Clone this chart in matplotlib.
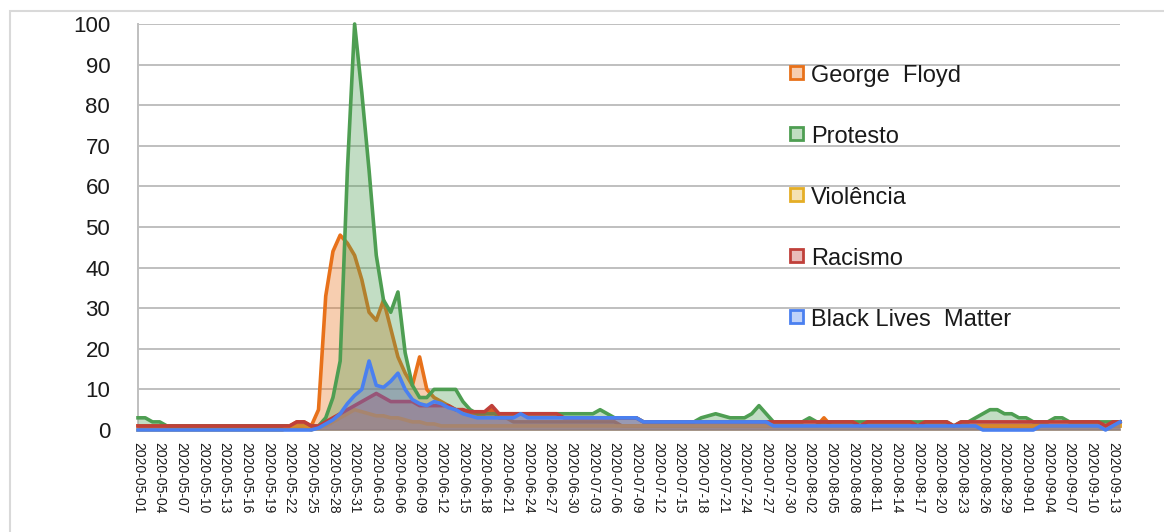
import matplotlib
matplotlib.use("Agg")
import matplotlib.pyplot as plt
import numpy as np
import pandas as pd
from matplotlib.patches import Rectangle

plt.rcParams["font.family"] = ["Liberation Sans", "DejaVu Sans"]

# Daily search interest, 2020-05-01 .. 2020-09-14
dates = pd.date_range("2020-05-01", "2020-09-14", freq="D")

george_floyd = [
    1, 1, 1, 1, 1, 1, 1, 1, 1, 1,
    1, 1, 1, 1, 1, 1, 1, 1, 1, 1,
    1, 1, 2, 2, 1, 5, 33, 44, 48, 46,
    43, 37, 29, 27, 32, 25, 18, 14, 11, 18,
    10, 8, 7, 6, 5, 5, 4, 4, 4, 5,
    3, 3, 2, 2, 2, 2, 2, 2, 2, 2,
    2, 2, 2, 2, 2, 2, 2, 1, 1, 1,
    1, 1, 1, 1, 1, 1, 1, 1, 1, 1,
    1, 1, 1, 1, 1, 1, 1, 1, 1, 1,
    1, 1, 1, 1, 1, 3, 1, 1, 1, 1,
    1, 1, 1, 1, 1, 1, 1, 1, 1, 1,
    1, 1, 1, 1, 1, 1, 1, 1, 1, 1,
    1, 1, 1, 1, 1, 1, 1, 1, 1, 1,
    1, 1, 1, 1, 1, 1, 1,
]

protesto = [
    3, 3, 2, 2, 1, 1, 1, 1, 1, 1,
    1, 1, 1, 1, 1, 1, 1, 1, 1, 1,
    1, 1, 1, 1, 1, 1, 3, 8, 17, 64,
    100, 83, 64, 43, 32, 29, 34, 19, 11, 8,
    8, 10, 10, 10, 10, 7, 5, 4, 4, 4,
    4, 4, 4, 4, 4, 4, 4, 4, 4, 4,
    4, 4, 4, 4, 5, 4, 3, 3, 3, 3,
    2, 2, 2, 2, 2, 2, 2, 2, 3, 3.5,
    4, 3.5, 3, 3, 3, 4, 6, 4, 2, 2,
    2, 2, 2, 3, 2, 2, 2, 2, 2, 2,
    2, 2, 2, 2, 2, 2, 2, 2, 2, 2,
    2, 2, 2, 1, 2, 2, 3, 4, 5, 5,
    4, 4, 3, 3, 2, 2, 2, 3, 3, 2,
    2, 2, 2, 2, 2, 2, 2,
]

violencia = [
    0, 0, 0, 0, 0, 0, 0, 0, 0, 0,
    0, 0, 0, 0, 0, 0, 0, 0, 0, 0,
    0, 1, 1, 1, 0, 1, 1, 2, 3, 4,
    5, 4.5, 4, 3.5, 3.5, 3, 3, 2.5, 2, 2,
    1.5, 1.5, 1, 1, 1, 1, 1, 1, 1, 1,
    1, 1, 1, 1, 1, 1, 1, 1, 1, 1,
    1, 1, 1, 1, 1, 1, 1, 1, 1, 1,
    1, 1, 1, 1, 1, 1, 1, 1, 1, 1,
    1, 1, 1, 1, 1, 1, 1, 1, 1, 1,
    1, 1, 1, 1, 1, 1, 1, 1, 1, 1,
    1, 1, 1, 1, 1, 1, 1, 1, 1, 1,
    1, 1, 1, 1, 1, 1, 1, 1, 1, 1,
    1, 1, 1, 1, 1, 1, 1, 1, 1, 1,
    1, 1, 1, 1, 1, 1, 1,
]

racismo = [
    1, 1, 1, 1, 1, 1, 1, 1, 1, 1,
    1, 1, 1, 1, 1, 1, 1, 1, 1, 1,
    1, 1, 2, 2, 1, 1, 2, 3, 4, 5,
    6, 7, 8, 9, 8, 7, 7, 7, 7, 6,
    6, 6, 6, 6, 5, 5, 4.5, 4.5, 4.5, 6,
    4, 4, 4, 4, 4, 4, 4, 4, 4, 3,
    3, 3, 3, 3, 3, 3, 3, 3, 3, 3,
    2, 2, 2, 2, 2, 2, 2, 2, 2, 2,
    2, 2, 2, 2, 2, 2, 2, 2, 2, 2,
    2, 2, 2, 2, 2, 2, 2, 2, 2, 2,
    1, 2, 2, 2, 2, 2, 2, 2, 1, 2,
    2, 2, 2, 1, 2, 2, 2, 2, 2, 2,
    2, 2, 2, 2, 2, 2, 2, 2, 2, 2,
    2, 2, 2, 2, 1, 2, 2,
]

black_lives_matter = [
    0, 0, 0, 0, 0, 0, 0, 0, 0, 0,
    0, 0, 0, 0, 0, 0, 0, 0, 0, 0,
    0, 0, 0, 0, 0, 0.5, 1.5, 2.5, 4, 6.5,
    8.5, 10, 17, 11, 10.5, 12, 14, 10, 7.5, 6.5,
    6, 7, 6.5, 5.5, 5, 4, 3.5, 3, 3, 3,
    3, 3, 3, 4, 3, 3, 3, 3, 3, 3,
    3, 3, 3, 3, 3, 3, 3, 3, 3, 3,
    2, 2, 2, 2, 2, 2, 2, 2, 2, 2,
    2, 2, 2, 2, 2, 2, 2, 2, 1, 1,
    1, 1, 1, 1, 1, 1, 1, 1, 1, 1,
    1, 1, 1, 1, 1, 1, 1, 1, 1, 1,
    1, 1, 1, 1, 1, 1, 1, 0, 0, 0,
    0, 0, 0, 0, 0, 1, 1, 1, 1, 1,
    1, 1, 1, 1, 0, 1, 2,
]

series_names = ["George  Floyd", "Protesto", "Violência", "Racismo", "Black Lives  Matter"]
series_values = [george_floyd, protesto, violencia, racismo, black_lives_matter]
series_colors = ["#E8711A", "#4E9E52", "#E5AE26", "#C0403A", "#4A80F0"]

y_ticks = list(range(0, 101, 10))
tick_step = 3

W, H = 1164, 532
fig = plt.figure(figsize=(W / 100, H / 100), dpi=100)
fig.patch.set_facecolor("white")

# light outer chart border
fig.add_artist(Rectangle((10 / W, 1 - 700 / H), 1400 / W, (700 - 11) / H,
                         transform=fig.transFigure, fill=False,
                         edgecolor="#D9D9D9", linewidth=1.5, clip_on=False))

ax = fig.add_axes([138 / W, 1 - 430 / H, (1120 - 138) / W, (430 - 24) / H])
x = np.arange(len(dates))

for i, (vals, color) in enumerate(zip(series_values, series_colors)):
    v = np.asarray(vals, dtype=float)
    ax.fill_between(x, 0, v, color=color, alpha=0.34, linewidth=0, zorder=3 + 2 * i)
    ax.plot(x, v, color=color, linewidth=2.6, zorder=4 + 2 * i, clip_on=False,
            solid_joinstyle="round")

ax.set_xlim(0, len(dates) - 1)
ax.set_ylim(0, 100)
ax.set_yticks(y_ticks)
ax.set_yticklabels([str(t) for t in y_ticks], fontsize=16, color="#1a1a1a")
ax.set_xticks(x[::tick_step])
ax.set_xticklabels(dates[::tick_step].strftime("%Y-%m-%d"), rotation=-90,
                   fontsize=10, color="#1a1a1a", ha="center", va="top")
ax.tick_params(axis="y", length=0, pad=20)
ax.tick_params(axis="x", length=0, pad=9)

ax.grid(axis="y", color="#BFBFBF", linewidth=1.4)
ax.grid(axis="x", visible=False)
ax.set_axisbelow(True)
for side in ("top", "right"):
    ax.spines[side].set_visible(False)
for side in ("left", "bottom"):
    ax.spines[side].set_color("#BFBFBF")
    ax.spines[side].set_linewidth(1.4)

# legend: square markers with tinted fill, stacked down the right side
for i, (name, color) in enumerate(zip(series_names, series_colors)):
    base = 82 + i * 61
    fig.add_artist(Rectangle((790 / W, 1 - (base - 3) / H), 13 / W, 13 / H,
                             transform=fig.transFigure, facecolor=color,
                             alpha=0.35, linewidth=0))
    fig.add_artist(Rectangle((790 / W, 1 - (base - 3) / H), 13 / W, 13 / H,
                             transform=fig.transFigure, fill=False,
                             edgecolor=color, linewidth=2))
    fig.text(811 / W, 1 - base / H, name, fontsize=17, color="#1a1a1a",
             ha="left", va="baseline")

fig.savefig("out.png", dpi=100)
